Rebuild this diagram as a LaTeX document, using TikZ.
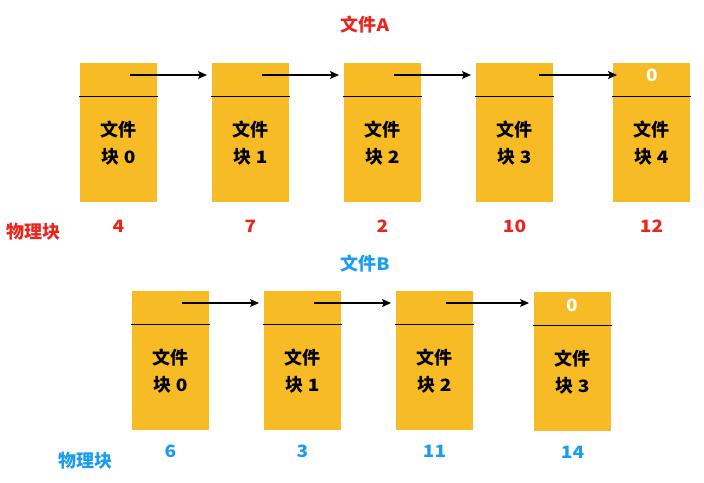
\documentclass[tikz,border=0pt]{standalone}
\usepackage{fontspec}
\setmainfont{Liberation Sans}
\newfontfamily\cjkf{Noto Sans CJK SC}
\newfontfamily\numf[FakeStretch=1.12]{Noto Sans CJK SC}
\newcommand\numtxt[1]{{\numf\bfseries\fontsize{17}{19}\selectfont #1}}
\usetikzlibrary{calc,arrows.meta}
\definecolor{blk}{HTML}{F7BB25}
\definecolor{redt}{HTML}{E8261E}
\definecolor{bluet}{HTML}{1A9CF0}
\begin{document}
\begin{tikzpicture}[x=1pt,y=-1pt,
  fblock/.style={fill=blk, minimum width=77pt, minimum height=139pt, inner sep=0pt, anchor=north west},
  divline/.style={black, line width=1pt},
  link/.style={black, line width=1.1pt, -{Stealth[length=9pt,width=8pt,inset=2pt]}},
  intext/.style={font=\cjkf\fontsize{18}{27}\selectfont\bfseries, align=center, inner sep=0pt, text=black},
  nulltext/.style={inner sep=0pt, text=white},
  rnum/.style={font=\cjkf\fontsize{18}{20}\selectfont\bfseries, inner sep=0pt, text=redt},
  bnum/.style={font=\cjkf\fontsize{18}{20}\selectfont\bfseries, inner sep=0pt, text=bluet}]
\useasboundingbox (0,0) rectangle (704,482);
% title A
\node[rnum] (titA) at (365,25) {文件\numtxt{A}};
% top row boxes
\foreach \i/\x/\n in {0/80/4,1/212/7,2/344/2,3/476/10,4/613/12}{
  \node[fblock] (a\i) at (\x,63) {};
  \draw[divline] ($(a\i.north west)+(-1,33)$) -- ($(a\i.north east)+(1,33)$);
  \node[intext] (at\i) at ($(a\i.north west)+(38.5,80)$) {文件\\块 \numtxt{\i}};
  \node[rnum] (an\i) at ($(a\i.north west)+(38.5,163)$) {\numtxt{\n}};
}
\node[nulltext] (az) at ($(a4.north west)+(39,12)$) {\numtxt{0}};
\foreach \i/\j in {0/1,1/2,2/3}{
  \coordinate (as\i) at ($(a\i.north west)+(50,12)$);
  \coordinate (ae\j) at ($(a\j.north west)+(-5,12)$);
  \draw[link] (as\i) -- (ae\j);
}
\coordinate (as3) at ($(a3.north west)+(63,12)$);
\coordinate (ae4) at ($(a4.north west)+(4,12)$);
\draw[link] (as3) -- (ae4);
\node[rnum] (pa) at (33,232) {物理块};
% title B
\node[bnum] (titB) at (365,264) {文件\numtxt{B}};
\foreach \i/\x/\y/\n in {0/132/291/6,1/264/291/3,2/396/291/11,3/534/292/14}{
  \node[fblock] (b\i) at (\x,\y) {};
  \draw[divline] ($(b\i.north west)+(-1,33)$) -- ($(b\i.north east)+(1,33)$);
  \node[intext] (bt\i) at ($(b\i.north west)+(38.5,80)$) {文件\\块 \numtxt{\i}};
  \node[bnum] (bn\i) at ($(b\i.north west)+(38.5,160)$) {\numtxt{\n}};
}
\node[nulltext] (bz) at ($(b3.north west)+(38,13)$) {\numtxt{0}};
\foreach \i/\j in {0/1,1/2,2/3}{
  \coordinate (bs\i) at ($(b\i.north west)+(50,12)$);
  \coordinate (be\j) at ($(b\j.north west)+(-5,12)$);
  \draw[link] (bs\i) -- (be\j |- bs\i);
}
\node[bnum] (pb) at (85,461) {物理块};
\end{tikzpicture}
\end{document}
